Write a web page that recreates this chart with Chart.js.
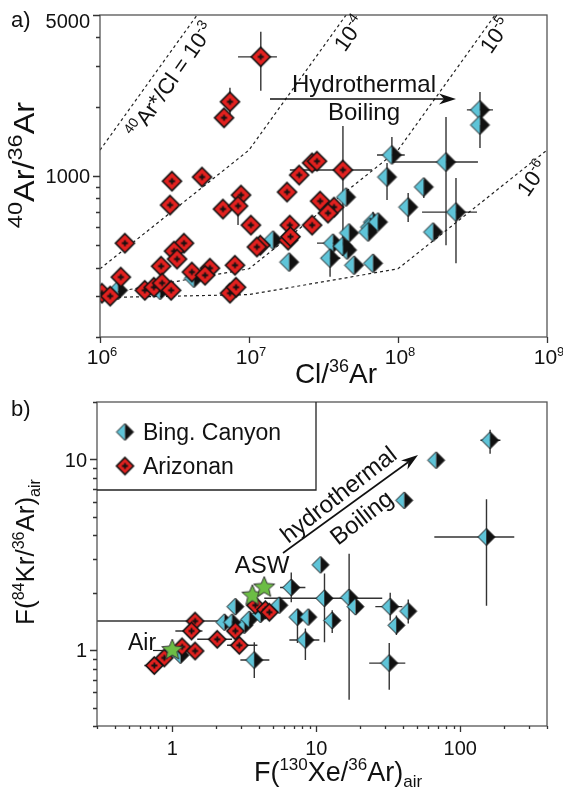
<!DOCTYPE html>
<html>
<head>
<meta charset="utf-8">
<script src="https://cdn.jsdelivr.net/npm/chart.js@4.4.0/dist/chart.umd.min.js"></script>
<style>
  body { margin: 0; background: #fff; }
  #wrap { position: relative; width: 563px; height: 799px; }
  canvas { position: absolute; left: 0; top: 0; }
</style>
</head>
<body>
<div id="wrap">
  <canvas id="chartA" width="563" height="799"></canvas>
  <canvas id="chartB" width="563" height="799"></canvas>
</div>
<script>
// ---- panel a data: Cl/36Ar vs 40Ar/36Ar ----
const arizA = [
  [1.2e7, 3290], [7.45e6, 2100], [6.8e6, 1790], [3.04e6, 950], [4.84e6, 990], [8.84e6, 827],
  [2.95e6, 748], [1.47e6, 511], [6.69e6, 719], [8.44e6, 741], [1.03e7, 612], [3.66e6, 511],
  [3.14e6, 472], [3.29e6, 436], [2.57e6, 406], [8.05e6, 410], [1.38e6, 364], [5.47e6, 398],
  [4.14e6, 383], [5.07e6, 371], [2.0e6, 319], [2.3e6, 329], [2.61e6, 343], [3.0e6, 319],
  [1.03e6, 310], [1.17e6, 301], [7.45e6, 310], [8.18e6, 329], [2.65e7, 1140], [2.86e7, 1160],
  [2.17e7, 1010], [1.8e7, 852], [4.27e7, 1062], [3.0e7, 778], [3.72e7, 733], [3.39e7, 690],
  [1.88e7, 612], [2.65e7, 612], [1.83e7, 527], [1.9e7, 545], [1.19e7, 501], [1.13e7, 492]
];
// [index, xMin, xMax, yMin, yMax]
const arizAErr = [
  [0, 8.44e6, 1.54e7, 2343, 4227],
  [1, null, null, 1850, 2414],
  [9, null, null, 612, null],
  [32, 1.88e7, 6.7e7, 449, 1650]
];
const bingA = [
  [1.32e6, 319], [2.53e6, 319], [4.27e6, 360], [9.1e7, 1234], [2.1e8, 1150], [8.44e7, 990],
  [1.49e8, 896], [1.17e8, 733], [2.45e8, 697], [1.72e8, 571], [4.48e7, 810], [6.8e7, 631],
  [6.49e7, 600], [4.69e7, 566], [3.66e7, 511], [4.55e7, 477], [4.27e7, 496], [3.5e7, 440],
  [5.07e7, 410], [6.8e7, 418], [1.86e7, 423], [1.45e7, 527], [3.55e8, 1936], [3.55e8, 1666],
  [7.34e7, 631], [6.3e7, 571]
];
const bingAErr = [
  [3, 7.23e7, 1.11e8, 1139, 1478],
  [4, 9.1e7, 3.44e8, 501, 1805],
  [5, null, null, 787, 1139],
  [6, null, null, 802, 961],
  [7, null, null, 631, 843],
  [8, 1.45e8, 3.39e8, 418, 980],
  [11, null, null, 560, 700],
  [14, 2.86e7, 4.27e7, null, null],
  [17, 3.05e7, 4.1e7, 365, 480],
  [22, 2.9e8, 4.34e8, null, 2318],
  [23, null, null, 1324, null]
];
// 40Ar*/Cl iso-lines
const iso3 = [[1e6, 1295.5], [1e7, 10295.5]];
const iso4 = [[1e6, 395.5], [1e7, 1295.5], [1e8, 10295.5]];
const iso5 = [[1e6, 305.5], [1e7, 395.5], [1e8, 1295.5], [1e9, 10295.5]];
const iso6 = [[1e6, 296.5], [1e7, 305.5], [1e8, 395.5], [1e9, 1295.5]];

const xTicksA = [1e6, 1e7, 1e8, 1e9];
const yTicksA = [200, 300, 400, 500, 600, 700, 800, 900, 1000, 2000, 3000, 4000, 5000];
const yLabelsA = [1000, 5000];

// ---- panel b data: F(130Xe/36Ar) vs F(84Kr/36Ar) ----
const bingB = [
  [68, 9.9], [161, 12.6], [40.8, 6.1], [152, 3.92], [10.7, 2.8], [6.7, 2.13], [11.4, 1.87],
  [16.9, 1.89], [18.7, 1.69], [32.6, 1.69], [43.5, 1.6], [36, 1.35], [12.9, 1.43], [7.4, 1.49],
  [8.8, 1.49], [8.4, 1.13], [32.1, 0.855], [5.53, 1.72], [2.74, 1.69], [2.3, 1.4], [3.16, 1.35],
  [3.42, 1.45], [3.71, 0.887], [1.14, 0.94], [2.6, 1.4], [4.1, 1.54]
];
const bingBErr = [
  [1, 138, 190, 10.7, 14.3],
  [3, 66, 237, 1.71, 6.19],
  [5, 5.6, 8.4, 1.78, 2.55],
  [6, 4.35, 28.7, 1.1, 2.52],
  [7, null, null, 0.55, 3.2],
  [9, 25.7, 39.6, 1.43, 2.0],
  [10, null, null, 1.38, 1.84],
  [11, null, null, 1.2, 1.52],
  [12, null, null, 1.23, 1.62],
  [13, null, null, 1.09, 1.65],
  [15, 6.5, 10.5, 0.887, 1.3],
  [16, 23.3, 41.5, 0.62, 1.09],
  [22, 2.97, 4.72, 0.715, 1.1]
];
const arizB = [
  [3.77, 1.72], [4.43, 1.63], [4.72, 1.58], [1.44, 1.42], [1.36, 1.26], [2.05, 1.14], [2.74, 1.26],
  [2.92, 1.06], [1.17, 1.04], [1.44, 0.99], [0.88, 0.91], [0.75, 0.83]
];
const arizBErr = [
  [1, null, null, 1.5, 1.75],
  [3, 0.2, 2.5, null, null],
  [4, 1.05, 1.62, null, null],
  [5, 1.49, 2.6, null, null],
  [7, 2.4, 3.9, null, null],
  [11, 0.64, 0.85, null, null]
];
const airB = [[1, 1]];
const aswB = [[3.6, 1.93], [4.35, 2.13]];

const xTicksB = [0.3, 0.4, 0.5, 0.6, 0.7, 0.8, 0.9, 1, 2, 3, 4, 5, 6, 7, 8, 9, 10,
  20, 30, 40, 50, 60, 70, 80, 90, 100, 200, 300, 400];
const xLabelsB = [1, 10, 100];
const yTicksB = [0.4, 0.5, 0.6, 0.7, 0.8, 0.9, 1, 2, 3, 4, 5, 6, 7, 8, 9, 10, 20];
const yLabelsB = [1, 10];

// ---- styling helpers ----
const FONT = '"Liberation Sans", Arial, sans-serif';
const CYAN = '#5ec4d8';
const RED = '#e3211f';
const GREEN = '#6cbd45';

function makeBing(r) {
  const c = document.createElement('canvas');
  const s = 2 * r + 4; c.width = s; c.height = s;
  const g = c.getContext('2d'), m = s / 2;
  g.beginPath(); g.moveTo(m, m - r); g.lineTo(m - r, m); g.lineTo(m, m + r); g.closePath();
  g.fillStyle = CYAN; g.fill();
  g.beginPath(); g.moveTo(m, m - r); g.lineTo(m + r, m); g.lineTo(m, m + r); g.closePath();
  g.fillStyle = '#111'; g.fill();
  g.beginPath(); g.moveTo(m, m - r); g.lineTo(m + r, m); g.lineTo(m, m + r); g.lineTo(m - r, m); g.closePath();
  g.strokeStyle = '#111'; g.lineWidth = 1; g.stroke();
  return c;
}

function makeAriz(r) {
  const c = document.createElement('canvas');
  const s = 2 * r + 4; c.width = s; c.height = s;
  const g = c.getContext('2d'), m = s / 2;
  g.beginPath(); g.moveTo(m, m - r); g.lineTo(m + r, m); g.lineTo(m, m + r); g.lineTo(m - r, m); g.closePath();
  g.fillStyle = RED; g.fill();
  g.strokeStyle = '#111'; g.lineWidth = 1.6; g.stroke();
  g.beginPath(); g.moveTo(m - 3, m); g.lineTo(m + 3, m); g.moveTo(m, m - 3); g.lineTo(m, m + 3);
  g.lineWidth = 1.8; g.stroke();
  return c;
}

function makeStar(R) {
  const c = document.createElement('canvas');
  const s = 2 * R + 4; c.width = s; c.height = s;
  const g = c.getContext('2d'), m = s / 2;
  g.beginPath();
  for (let i = 0; i < 10; i++) {
    const rr = i % 2 ? R * 0.45 : R;
    const a = -Math.PI / 2 + i * Math.PI / 5;
    g.lineTo(m + rr * Math.cos(a), m + rr * Math.sin(a));
  }
  g.closePath();
  g.fillStyle = GREEN; g.fill();
  g.strokeStyle = '#333'; g.lineWidth = 1; g.stroke();
  return c;
}

const bingImgA = makeBing(9.5), arizImgA = makeAriz(9.5);
const bingImgB = makeBing(8.5), arizImgB = makeAriz(8.5);
const starImg = makeStar(11);

const toXY = arr => arr.map(p => ({ x: p[0], y: p[1] }));

// text with superscripts / subscripts; parts = [[text, 0 normal | 1 sup | 2 sub]]
function rich(ctx, parts, x, y, size, align, angle, middle, opts) {
  const o = opts || {};
  const supRatio = o.sup || 0.62, stretch = o.stretch || 1;
  ctx.save();
  ctx.translate(x, y);
  if (angle) ctx.rotate(angle * Math.PI / 180);
  if (stretch !== 1) ctx.scale(stretch, 1);
  const ss = Math.round(size * supRatio);
  let w = 0;
  parts.forEach(p => { ctx.font = (p[1] ? ss : size) + 'px ' + FONT; w += ctx.measureText(p[0]).width; });
  let cx = align === 'center' ? -w / 2 : align === 'right' ? -w : 0;
  const base = middle ? size * 0.36 : 0;
  ctx.textAlign = 'left'; ctx.textBaseline = 'alphabetic'; ctx.fillStyle = '#111';
  parts.forEach(p => {
    ctx.font = (p[1] ? ss : size) + 'px ' + FONT;
    const dy = p[1] === 1 ? -size * 0.4 : p[1] === 2 ? size * 0.22 : 0;
    ctx.fillText(p[0], cx, base + dy);
    cx += ctx.measureText(p[0]).width;
  });
  ctx.restore();
}

function arrow(ctx, x0, y0, x1, y1) {
  const a = Math.atan2(y1 - y0, x1 - x0), L = 17, W = 5.5;
  ctx.save();
  ctx.strokeStyle = '#111'; ctx.fillStyle = '#111'; ctx.lineWidth = 1.6;
  ctx.beginPath(); ctx.moveTo(x0, y0);
  ctx.lineTo(x1 - L * 0.7 * Math.cos(a), y1 - L * 0.7 * Math.sin(a)); ctx.stroke();
  ctx.translate(x1, y1); ctx.rotate(a);
  ctx.beginPath(); ctx.moveTo(0, 0); ctx.lineTo(-L, -W); ctx.lineTo(-L * 0.7, 0); ctx.lineTo(-L, W); ctx.closePath();
  ctx.fill();
  ctx.restore();
}

function drawErrors(chart, series, errs) {
  const { ctx, chartArea: a, scales: { x, y } } = chart;
  ctx.save();
  ctx.beginPath(); ctx.rect(a.left, a.top, a.right - a.left, a.bottom - a.top); ctx.clip();
  ctx.strokeStyle = '#333'; ctx.lineWidth = 1.4;
  errs.forEach(e => {
    const p = series[e[0]];
    const px = x.getPixelForValue(p[0]), py = y.getPixelForValue(p[1]);
    ctx.beginPath();
    if (e[1] !== null) { ctx.moveTo(x.getPixelForValue(e[1]), py); ctx.lineTo(px, py); }
    if (e[2] !== null) { ctx.moveTo(px, py); ctx.lineTo(x.getPixelForValue(e[2]), py); }
    if (e[3] !== null) { ctx.moveTo(px, y.getPixelForValue(e[3])); ctx.lineTo(px, py); }
    if (e[4] !== null) { ctx.moveTo(px, py); ctx.lineTo(px, y.getPixelForValue(e[4])); }
    ctx.stroke();
  });
  ctx.restore();
}

function drawFrame(chart, xTicks, xMajor, yTicks, yMajor) {
  const { ctx, chartArea: a, scales: { x, y } } = chart;
  ctx.save();
  ctx.strokeStyle = '#555'; ctx.lineWidth = 1.3;
  ctx.strokeRect(a.left, a.top, a.right - a.left, a.bottom - a.top);
  ctx.strokeStyle = '#333';
  ctx.beginPath();
  xTicks.forEach(v => {
    const px = Math.round(x.getPixelForValue(v)) + 0.5;
    const len = xMajor.includes(v) ? 6 : 3;
    ctx.moveTo(px, a.bottom); ctx.lineTo(px, a.bottom + len);
  });
  yTicks.forEach(v => {
    const py = Math.round(y.getPixelForValue(v)) + 0.5;
    const len = yMajor.includes(v) ? 7 : 4;
    ctx.moveTo(a.left, py); ctx.lineTo(a.left - len, py);
  });
  ctx.stroke();
  ctx.restore();
}

const isoStyle = { showLine: true, borderColor: '#222', borderWidth: 1.2, borderDash: [3, 3],
  pointRadius: 0, fill: false, tension: 0 };

// ---- panel a ----
const panelA = {
  id: 'panelA',
  beforeDatasetsDraw(chart) {
    drawErrors(chart, arizA, arizAErr);
    drawErrors(chart, bingA, bingAErr);
  },
  afterDraw(chart) {
    const { ctx, chartArea: a, scales: { x, y } } = chart;
    drawFrame(chart, xTicksA, xTicksA, yTicksA, yLabelsA);
    yLabelsA.forEach(v => {
      const py = Math.max(y.getPixelForValue(v), a.top + 6);
      rich(ctx, [[String(v), 0]], a.left - 10, py, 20, 'right', 0, true);
    });
    xTicksA.forEach(v => {
      rich(ctx, [['10', 0], [String(Math.round(Math.log10(v))), 1]], x.getPixelForValue(v) + 2, a.bottom + 27, 21, 'center');
    });
    rich(ctx, [['a)', 0]], 11, 27, 22, 'left');
    rich(ctx, [['Cl/', 0], ['36', 1], ['Ar', 0]], 336, 383, 28, 'center', 0, false, { sup: 0.66 });
    rich(ctx, [['40', 1], ['Ar/', 0], ['36', 1], ['Ar', 0]], 34, 165, 29, 'center', -90, false, { sup: 0.72, stretch: 1.12 });
    // iso-line labels
    rich(ctx, [['40', 1], ['Ar*/Cl = 10', 0], ['-3', 1]], 170, 80, 22, 'center', -55, true);
    rich(ctx, [['10', 0], ['-4', 1]], 349, 33, 22, 'center', -55, true);
    rich(ctx, [['10', 0], ['-5', 1]], 495, 35, 22, 'center', -55, true);
    rich(ctx, [['10', 0], ['-6', 1]], 532, 178, 22, 'center', -55, true);
    // hydrothermal boiling arrow
    arrow(ctx, 270, 99, 456, 99);
    rich(ctx, [['Hydrothermal', 0]], 364, 92, 24, 'center');
    rich(ctx, [['Boiling', 0]], 364, 120, 24, 'center');
  }
};

new Chart(document.getElementById('chartA'), {
  type: 'scatter',
  data: {
    datasets: [
      { label: 'Arizonan', data: toXY(arizA), pointStyle: arizImgA, pointRadius: 8 },
      { label: 'Bing. Canyon', data: toXY(bingA), pointStyle: bingImgA, pointRadius: 8 },
      Object.assign({ data: toXY(iso3) }, isoStyle),
      Object.assign({ data: toXY(iso4) }, isoStyle),
      Object.assign({ data: toXY(iso5) }, isoStyle),
      Object.assign({ data: toXY(iso6) }, isoStyle)
    ]
  },
  options: {
    responsive: false, animation: false, events: [],
    layout: { padding: { left: 100, top: 15, right: 16, bottom: 462 } },
    plugins: { legend: { display: false }, tooltip: { enabled: false } },
    scales: {
      x: { type: 'logarithmic', min: 1e6, max: 1e9, display: false },
      y: { type: 'logarithmic', min: 200, max: 5000, display: false }
    }
  },
  plugins: [panelA]
});

// ---- panel b ----
const panelB = {
  id: 'panelB',
  beforeDatasetsDraw(chart) {
    drawErrors(chart, bingB, bingBErr);
    drawErrors(chart, arizB, arizBErr);
  },
  afterDraw(chart) {
    const { ctx, chartArea: a, scales: { x, y } } = chart;
    drawFrame(chart, xTicksB, xLabelsB, yTicksB, yLabelsB);
    yLabelsB.forEach(v => rich(ctx, [[String(v), 0]], a.left - 10, y.getPixelForValue(v), 20, 'right', 0, true));
    xLabelsB.forEach(v => rich(ctx, [[String(v), 0]], x.getPixelForValue(v), a.bottom + 29, 20, 'center'));
    rich(ctx, [['b)', 0]], 11, 416, 22, 'left');
    rich(ctx, [['F(', 0], ['130', 1], ['Xe/', 0], ['36', 1], ['Ar)', 0], ['air', 2]], 338, 781, 27, 'center');
    rich(ctx, [['F(', 0], ['84', 1], ['Kr/', 0], ['36', 1], ['Ar)', 0], ['air', 2]], 34, 552, 26, 'center', -90);
    // legend box
    ctx.save();
    ctx.strokeStyle = '#222'; ctx.lineWidth = 1.3;
    ctx.beginPath(); ctx.moveTo(a.left, 490); ctx.lineTo(316, 490); ctx.lineTo(316, a.top); ctx.stroke();
    ctx.drawImage(bingImgB, 125 - bingImgB.width / 2, 432 - bingImgB.height / 2);
    ctx.drawImage(arizImgB, 125 - arizImgB.width / 2, 466 - arizImgB.height / 2);
    ctx.restore();
    rich(ctx, [['Bing. Canyon', 0]], 143, 440, 23, 'left');
    rich(ctx, [['Arizonan', 0]], 143, 474, 23, 'left');
    // arrow and labels
    arrow(ctx, 283, 553, 418, 455);
    rich(ctx, [['hydrothermal', 0]], 338, 494, 24, 'center', -38, true);
    rich(ctx, [['Boiling', 0]], 361, 517, 24, 'center', -38, true);
    rich(ctx, [['ASW', 0]], 262, 573, 24, 'center');
    rich(ctx, [['Air', 0]], 142, 650, 23, 'center');
    ctx.save();
    ctx.strokeStyle = '#222'; ctx.lineWidth = 1.2;
    ctx.beginPath(); ctx.moveTo(153, 650.5); ctx.lineTo(166, 650.5); ctx.stroke();
    ctx.restore();
  }
};

new Chart(document.getElementById('chartB'), {
  type: 'scatter',
  data: {
    datasets: [
      { label: 'Air', data: toXY(airB), pointStyle: starImg, pointRadius: 8 },
      { label: 'ASW', data: toXY(aswB), pointStyle: starImg, pointRadius: 8 },
      { label: 'Arizonan', data: toXY(arizB), pointStyle: arizImgB, pointRadius: 8 },
      { label: 'Bing. Canyon', data: toXY(bingB), pointStyle: bingImgB, pointRadius: 8 }
    ]
  },
  options: {
    responsive: false, animation: false, events: [],
    layout: { padding: { left: 97, top: 402, right: 16, bottom: 73 } },
    plugins: { legend: { display: false }, tooltip: { enabled: false } },
    scales: {
      x: { type: 'logarithmic', min: 0.3, max: 400, display: false },
      y: { type: 'logarithmic', min: 0.4, max: 20, display: false }
    }
  },
  plugins: [panelB]
});
</script>
</body>
</html>
